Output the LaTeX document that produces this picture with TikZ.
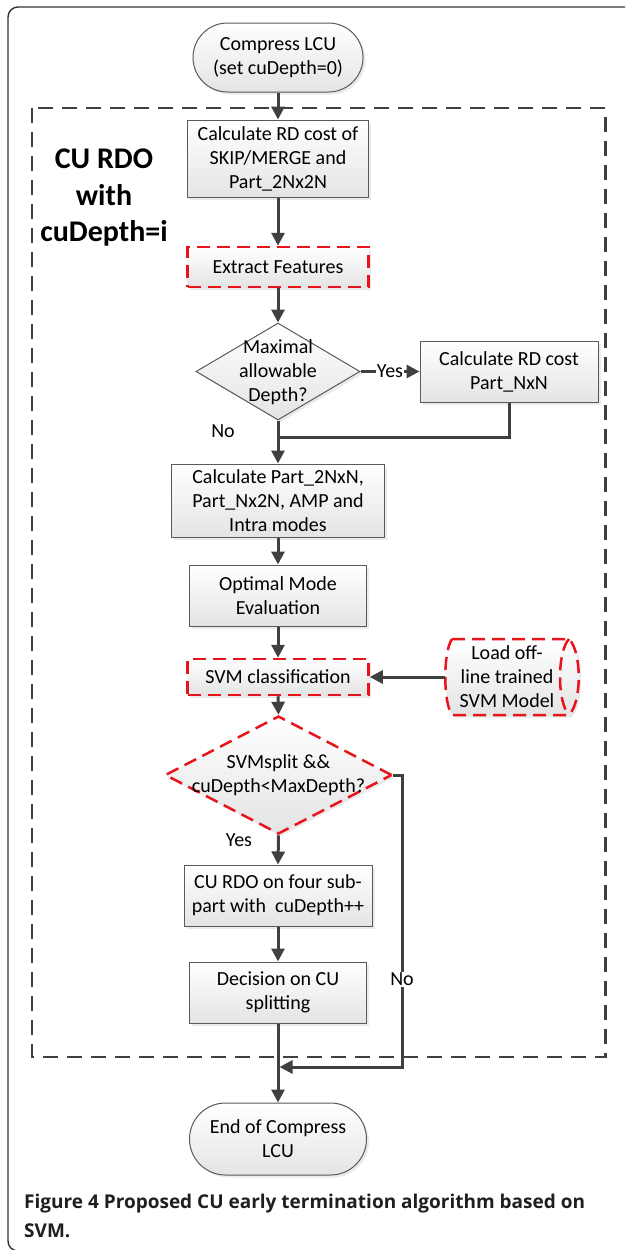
\documentclass[tikz,border=0pt]{standalone}
\usepackage{fontspec}
\setmainfont{Carlito}
\newfontfamily\capfont{Open Sans}
\usetikzlibrary{shapes.geometric,shapes.misc,arrows.meta,shadows}
\definecolor{linec}{HTML}{404040}
\definecolor{boxc}{HTML}{5A5A5A}
\definecolor{fillb}{HTML}{E4E4E4}
\definecolor{redc}{HTML}{E8141B}
\definecolor{framec}{HTML}{333333}
\begin{document}
\begin{tikzpicture}[x=1pt,y=-1pt,
  font=\fontsize{20}{24}\selectfont,
  shd/.style={drop shadow={shadow xshift=2.5pt,shadow yshift=-2.5pt,opacity=0.16}},
  proc/.style={rectangle, draw=boxc, line width=1pt, top color=white, bottom color=fillb,
    align=center, inner sep=0pt, shd},
  term/.style={rounded rectangle, draw=boxc, line width=1pt, top color=white, bottom color=fillb,
    align=center, inner sep=0pt, shd},
  dec/.style={diamond, draw=boxc, line width=1pt, top color=white, bottom color=fillb,
    inner sep=0pt, shd},
  redbox/.style={draw=redc, line width=2.5pt, dash pattern=on 13pt off 7pt},
  txt/.style={align=center, inner sep=0pt},
  lbl/.style={inner sep=1pt},
  arr/.style={draw=linec, line width=3pt, -{Triangle[length=13pt,width=13pt]}},
  ln/.style={draw=linec, line width=3pt}
]
\useasboundingbox (0,0) rectangle (625,1250);
\clip (0,0) rectangle (625,1250);
\fill[white] (0,0) rectangle (625,1250);
% outer frame
\draw[framec, line width=1.4pt, rounded corners=10pt] (660,7) -- (8,7) -- (8,1251) -- (660,1251);
% dashed region
\draw[linec, line width=2.4pt, dash pattern=on 15pt off 9pt] (32,108) rectangle (605.5,1057);
\node[txt, font=\bfseries\fontsize{30}{36.5}\selectfont] (lab) at (104,198) {CU RDO\\with\\cuDepth=i};

% nodes
\node[term, minimum width=170, minimum height=69] (start) at (278,57.5) {Compress LCU\\(set cuDepth=0)};
\node[proc, minimum width=181, minimum height=77] (b1) at (278,158.5) {Calculate RD cost of\\SKIP/MERGE and\\Part\_2Nx2N};
\node[proc, redbox, minimum width=181, minimum height=40] (ef) at (278,267) {Extract Features};
\node[dec, minimum width=164, minimum height=97] (d1) at (278,371.5) {};
\node[txt] (d1t) at (278,372) {Maximal\\allowable\\Depth?};
\node[proc, minimum width=178, minimum height=61] (nxn) at (509,371.5) {Calculate RD cost\\Part\_NxN};
\node[proc, minimum width=213, minimum height=73] (b3) at (278,500.5) {Calculate Part\_2NxN,\\Part\_Nx2N, AMP and\\Intra modes};
\node[proc, minimum width=177, minimum height=61] (b4) at (278,595.5) {Optimal Mode\\Evaluation};
\node[proc, redbox, minimum width=181, minimum height=36] (svm) at (278,677) {SVM classification};
% load (horizontal cylinder)
\path[redbox, top color=white, bottom color=fillb, drop shadow={shadow xshift=2.5pt,shadow yshift=-2.5pt,opacity=0.16}]
  (452,639) -- (569,639) .. controls (582,652) and (582,702) .. (569,715)
  -- (452,715) .. controls (443,702) and (443,652) .. (452,639) -- cycle;
\draw[redbox] (569,639) .. controls (557,652) and (557,702) .. (569,715);
\node[txt, minimum width=133, minimum height=76] (load) at (511.5,677) {};
\node[txt] (loadt) at (507,677) {Load off-\\line trained\\SVM Model};
\node[dec, redbox, minimum width=227, minimum height=118] (d2) at (278.5,775) {};
\node[txt] (d2t) at (278.5,775) {SVMsplit \&\&\\cuDepth<MaxDepth?};
\node[proc, minimum width=188, minimum height=61] (b5) at (278,895.5) {CU RDO on four sub-\\part with~ cuDepth++};
\node[proc, minimum width=177, minimum height=61] (b6) at (278,992.5) {Decision on CU\\splitting};
\node[term, minimum width=177, minimum height=72] (end) at (278,1139) {End of Compress\\LCU};

% connectors
\draw[arr] (start.south) -- (b1.north);
\draw[arr] (b1.south) -- (ef.north);
\draw[arr] (ef.south) -- (d1.north);
\draw[arr] (d1.east) -- node[lbl, fill=white] (yes1) {Yes} (nxn.west);
\draw[arr] (d1.south) -- (b3.north);
\node[lbl] (no1) at (223,431) {No};
\coordinate (j1) at (278,437);
\draw[ln] (nxn.south) |- (j1);
\draw[arr] (b3.south) -- (b4.north);
\draw[arr] (b4.south) -- (svm.north);
\draw[arr] (load.west) -- (svm.east);
\draw[arr] (svm.south) -- (d2.north);
\draw[arr] (d2.south) -- (b5.north);
\node[lbl] (yes2) at (239,840) {Yes};
\draw[arr] (b5.south) -- (b6.north);
\draw[arr] (b6.south) -- (end.north);
\coordinate (r1) at (402,775);
\coordinate (r2) at (402,1067);
\coordinate (j2) at (279.5,1067);
\draw[arr] (d2.east) -- (r1) -- node[pos=0.7, lbl, fill=white] (no2) {No} (r2) -- (j2);

% caption
\node[anchor=base west, inner sep=0pt, text=black!88, font=\capfont\bfseries\fontsize{19}{22}\selectfont] (cap1) at (24,1208)
  {Figure 4 Proposed CU early termination algorithm based on};
\node[anchor=base west, inner sep=0pt, text=black!88, font=\capfont\bfseries\fontsize{19}{22}\selectfont] (cap2) at (24,1237) {SVM.};
\end{tikzpicture}
\end{document}
